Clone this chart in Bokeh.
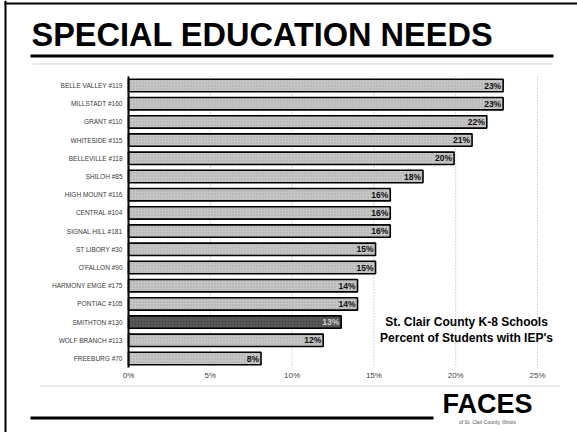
from bokeh.plotting import figure
from bokeh.models import Range1d, Label, BoxAnnotation, FixedTicker
from bokeh.core.properties import value
from bokeh.embed import file_html
from bokeh.resources import INLINE

schools = ["BELLE VALLEY #119", "MILLSTADT #160", "GRANT #110", "WHITESIDE #115",
           "BELLEVILLE #118", "SHILOH #85", "HIGH MOUNT #116", "CENTRAL #104",
           "SIGNAL HILL #181", "ST LIBORY #30", "O'FALLON #90", "HARMONY EMGE #175",
           "PONTIAC #105", "SMITHTON #130", "WOLF BRANCH #113", "FREEBURG #70"]
percents = [22.9, 22.9, 21.9, 21.0, 19.9, 18.0, 16.0, 16.0, 16.0, 15.1, 15.1, 14.0,
            14.0, 13.0, 11.9, 8.1]
highlight = "SMITHTON #130"
x_ticks = [0, 5, 10, 15, 20, 25]
x_tick_labels = ["0%", "5%", "10%", "15%", "20%", "25%"]
title_text = "SPECIAL EDUCATION NEEDS"
note_lines = ["St. Clair County K-8 Schools", "Percent of Students with IEP's"]

W, H = 577, 432
FONT = "Liberation Sans"

# layout: pixel geometry of the chart area inside the slide
X0_PX, X25_PX = 128, 537          # where 0% and 25% sit
ROW0_PX, ROW_STEP = 85, 18.2      # centre of first row, row pitch
px_per_unit = (X25_PX - X0_PX) / 25.0
x_start = -X0_PX / px_per_unit
x_end = (W - X0_PX) / px_per_unit
y_top = -ROW0_PX / ROW_STEP
y_bottom = (H - ROW0_PX) / ROW_STEP

n = len(schools)
ypos = list(range(n))
fills = ["#4d4d4d" if s == highlight else "#c6c6c6" for s in schools]
label_colors = ["#d0d0d0" if s == highlight else "#111111" for s in schools]
labels = [f"{round(v)}%" for v in percents]
label_x = [v - 0.12 for v in percents]

p = figure(width=W, height=H, output_backend="svg", toolbar_location=None,
           x_range=Range1d(x_start, x_end), y_range=Range1d(y_bottom, y_top),
           min_border=0, min_border_left=0, min_border_right=0, min_border_top=0,
           min_border_bottom=0, outline_line_color=None,
           background_fill_color="white", border_fill_color="white")
p.xgrid.visible = False
p.ygrid.visible = False

# dotted vertical gridlines, limited to the chart rows
p.segment(x0=x_ticks, x1=x_ticks, y0=[-0.5] * len(x_ticks), y1=[n - 0.5] * len(x_ticks),
          line_color="#b0b0b0", line_dash="1 2", line_width=1)

p.hbar(y=ypos, right=percents, left=0, height=0.68, fill_color=fills,
       line_color="black", line_width=1.6, hatch_pattern="dot", hatch_scale=3,
       hatch_color="#8a8a8a", hatch_alpha=0.6)
p.text(x=label_x, y=ypos, text=labels, text_align="right", text_baseline="middle",
       text_font_size="8.5px", text_font_style="bold", text_font=value(FONT),
       text_color=label_colors)

xa = p.xaxis[0]
xa.fixed_location = n - 0.5
xa.ticker = FixedTicker(ticks=x_ticks)
xa.major_label_overrides = {t: l for t, l in zip(x_ticks, x_tick_labels)}
xa.axis_line_color = None
xa.major_tick_line_color = None
xa.minor_tick_line_color = None
xa.major_tick_out = 0
xa.major_tick_in = 0
xa.major_label_standoff = 3
xa.major_label_text_font_size = "8px"
xa.major_label_text_font = FONT
xa.major_label_text_color = "#444444"

ya = p.yaxis[0]
ya.fixed_location = 0
ya.bounds = (-0.5, n - 0.5)
ya.ticker = FixedTicker(ticks=ypos)
ya.major_label_overrides = {i: s for i, s in zip(ypos, schools)}
ya.axis_line_color = "black"
ya.axis_line_width = 2
ya.major_tick_line_color = None
ya.minor_tick_line_color = None
ya.major_tick_out = 0
ya.major_tick_in = 0
ya.major_label_standoff = 6
ya.major_label_text_font_size = "6.5px"
ya.major_label_text_font = FONT
ya.major_label_text_color = "#3a3a3a"


def sy(y):
    # screen y measured from the top of the canvas
    return H - y


def box(l, r, t, b, color, alpha=1.0):
    p.add_layout(BoxAnnotation(left=l, right=r, top=sy(t), bottom=sy(b),
                               left_units="screen", right_units="screen",
                               top_units="screen", bottom_units="screen",
                               fill_color=color, fill_alpha=alpha, line_color=None,
                               level="overlay"))


def label(x, y, text, size, style="bold", align="left", color="black", baseline="middle"):
    p.add_layout(Label(x=x, y=sy(y), x_units="screen", y_units="screen", text=text,
                       text_font=FONT, text_font_size=size, text_font_style=style,
                       text_align=align, text_baseline=baseline, text_color=color))


# slide frame
box(4, 6, 0, H, "black")
box(4, W, 2, 4, "black")
# title and rules
label(31, 34, title_text, "32.5px")
box(30, 553, 54, 57, "black")
box(32, 552, 63, 64, "#d5d5d5")
box(40, 560, 385, 386, "#d5d5d5")
box(30, 433, 416, 419, "black")
# note
label(466, 321, note_lines[0], "12px", align="center")
label(466, 337, note_lines[1], "12px", align="center")
# logo
label(487, 403, "FACES", "27px", align="center")
label(487, 421, "of St. Clair County, Illinois", "5px", style="normal", align="center",
      color="#555555")

open("out.html", "w").write(file_html(p, INLINE))
